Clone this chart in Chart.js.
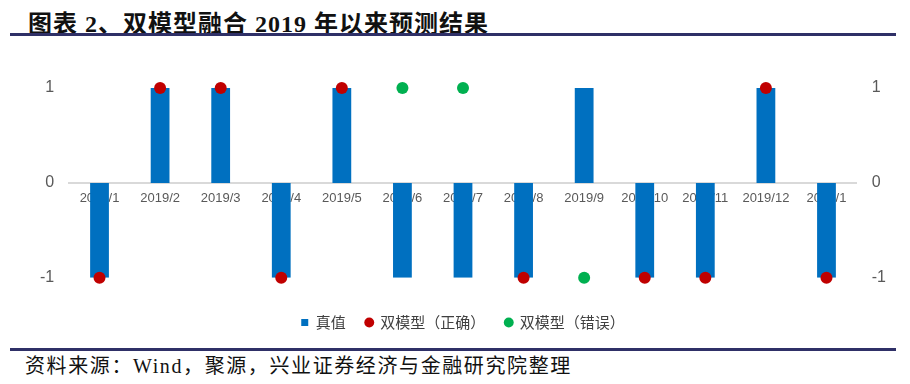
<!DOCTYPE html>
<html lang="zh">
<head>
    <meta charset="UTF-8">
    <title>双模型融合 2019 年以来预测结果</title>
    <script src="https://cdn.jsdelivr.net/npm/chart.js"></script>
    <style>
        body {
            margin: 0;
            width: 910px;
            height: 384px;
            background: #fff;
            position: relative;
            overflow: hidden;
        }

        /* 标题 */
        #titulo {
            position: absolute;
            left: 28px;
            top: 4px;
            font-family: "Liberation Serif", "Noto Sans CJK SC", serif;
            font-weight: bold;
            font-size: 24px;
            letter-spacing: 1px;
            color: #111;
        }

        .linha {
            position: absolute;
            left: 10px;
            width: 886px;
            height: 3px;
            background: #2f3067;
        }

        #fonte {
            position: absolute;
            left: 25px;
            top: 350px;
            font-family: "Liberation Serif", "Noto Sans CJK SC", serif;
            font-size: 20px;
            letter-spacing: 1.6px;
            color: #111;
        }

        #graficoContainer {
            position: absolute;
            left: 0;
            top: 40px;
            width: 910px;
            height: 300px;
        }
    </style>
</head>
<body>
    <div id="titulo">图表 2、双模型融合 2019 年以来预测结果</div>
    <div class="linha" style="top: 33px;"></div>

    <div id="graficoContainer">
        <canvas id="graficoCanvas"></canvas>
    </div>

    <div class="linha" style="top: 348px;"></div>
    <div id="fonte">资料来源：Wind，聚源，兴业证券经济与金融研究院整理</div>

    <script>
        // 月份
        const meses = ["2019/1", "2019/2", "2019/3", "2019/4", "2019/5", "2019/6", "2019/7",
                       "2019/8", "2019/9", "2019/10", "2019/11", "2019/12", "2020/1"];
        // 真值
        const valorReal = [-1, 1, 1, -1, 1, -1, -1, -1, 1, -1, -1, 1, -1];
        // 双模型预测正确
        const previsaoCerta = [-1, 1, 1, -1, 1, null, null, -1, null, -1, -1, 1, -1];
        // 双模型预测错误
        const previsaoErrada = [null, null, null, null, null, 1, 1, null, -1, null, null, null, null];
        // 刻度
        const ticksY = [-1, 0, 1];

        const fonteEixo = { family: "'Liberation Sans', Arial, sans-serif", size: 16 };

        const eixoY = (pos) => ({
            position: pos,
            min: -1,
            max: 1,
            afterBuildTicks: (axis) => { axis.ticks = ticksY.map(v => ({ value: v })); },
            grid: { display: false, drawTicks: false, tickLength: 0 },
            border: { display: false },
            ticks: { color: "#595959", font: fonteEixo, padding: 15 }
        });

        const ctx = document.getElementById("graficoCanvas").getContext("2d");
        new Chart(ctx, {
            data: {
                labels: meses,
                datasets: [
                    {
                        type: "bar",
                        label: "真值",
                        data: valorReal,
                        backgroundColor: "#0070c0",
                        barPercentage: 0.31,
                        categoryPercentage: 1,
                        pointStyle: "rect",
                        order: 2
                    },
                    {
                        type: "line",
                        label: "双模型（正确）",
                        data: previsaoCerta,
                        showLine: false,
                        pointRadius: 6,
                        pointBackgroundColor: "#c00000",
                        backgroundColor: "#c00000",
                        borderColor: "#c00000",
                        pointBorderWidth: 0,
                        pointStyle: "circle",
                        clip: false,
                        order: 1
                    },
                    {
                        type: "line",
                        label: "双模型（错误）",
                        data: previsaoErrada,
                        showLine: false,
                        pointRadius: 6,
                        pointBackgroundColor: "#00b050",
                        backgroundColor: "#00b050",
                        borderColor: "#00b050",
                        pointBorderWidth: 0,
                        pointStyle: "circle",
                        clip: false,
                        order: 1
                    }
                ]
            },
            options: {
                responsive: true,
                maintainAspectRatio: false,
                animation: false,
                layout: { padding: { left: 25, right: 9, top: 48, bottom: 0 } },
                scales: {
                    x: {
                        position: { y: 0 },
                        grid: { display: false, drawTicks: false },
                        border: { color: "#d9d9d9", width: 2 },
                        ticks: {
                            color: "#595959",
                            font: { family: "'Liberation Sans', Arial, sans-serif", size: 13 },
                            padding: 8,
                            maxRotation: 0,
                            autoSkip: false
                        }
                    },
                    y: eixoY("left"),
                    y2: eixoY("right")
                },
                plugins: {
                    tooltip: { enabled: false },
                    legend: {
                        position: "bottom",
                        title: { display: true, text: " ", font: { size: 1 }, padding: 8 },
                        labels: {
                            usePointStyle: true,
                            boxWidth: 7,
                            boxHeight: 7,
                            padding: 20,
                            color: "#404040",
                            font: { family: "'Noto Sans CJK SC', sans-serif", size: 15 },
                            sort: (a, b) => a.datasetIndex - b.datasetIndex
                        }
                    }
                }
            }
        });
    </script>
</body>
</html>
